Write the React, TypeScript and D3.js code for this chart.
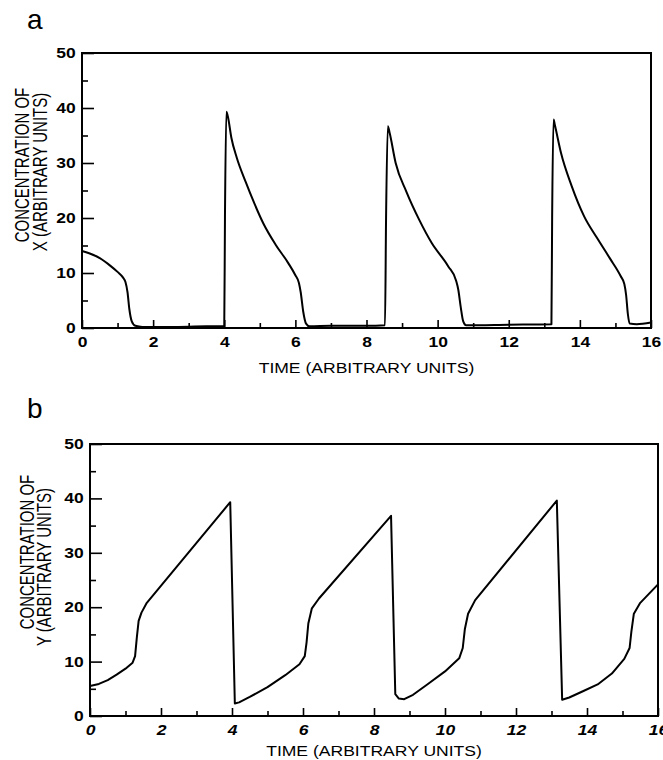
import { useEffect, useRef } from 'react'
import * as d3 from 'd3'

// time ticks / concentration ticks
const T_TICKS=[0,2,4,6,8,10,12,14,16]
const T_MINOR=[1,3,5,7,9,11,13,15]
const C_TICKS=[0,10,20,30,40,50]
const C_MINOR=[5,15,25,35,45]

// panel a : concentration of X
const TIME_X=[0,0.2,0.5,0.8,1.0,1.15,1.22,1.28,1.33,1.4,1.5,1.7,2.5,3.5,4.0,4.02,4.06,4.1,4.2,4.35,4.6,4.85,5.1,5.45,5.8,6.0,6.1,6.15,6.22,6.3,6.4,7,8,8.52,8.55,8.6,8.65,8.82,9.12,9.48,9.83,10.3,10.52,10.58,10.65,10.72,10.8,12,13.2,13.22,13.26,13.3,13.47,13.77,14.12,14.48,14.84,15.15,15.25,15.3,15.35,15.4,15.6,16]
const CONC_X=[14,13.6,12.7,11.3,10.2,9.2,8.4,6.5,3.5,1.2,0.4,0.2,0.2,0.3,0.3,20,39.3,38.5,34.6,31,26.6,22.6,19,15.1,11.8,9.6,8.2,6.5,3,0.8,0.3,0.4,0.4,0.5,20,36.7,35.5,30,24.8,19.7,15.5,11.2,8.6,7,3.8,1.2,0.5,0.6,0.7,20,37.9,36.8,31.8,25.8,20.3,16.4,12.7,9.4,8,6,2.5,0.8,0.7,1]

// panel b : concentration of Y
const TIME_Y=[0,0.25,0.5,0.75,1.0,1.2,1.27,1.32,1.37,1.45,1.6,3.95,4.08,4.2,4.5,5,5.5,5.9,6.05,6.1,6.15,6.25,6.45,8.48,8.6,8.7,8.85,9.1,9.5,10,10.4,10.5,10.56,10.65,10.85,13.15,13.3,13.5,13.9,14.3,14.7,15.05,15.2,15.25,15.32,15.5,16]
const CONC_Y=[5.5,5.9,6.6,7.6,8.7,9.8,11,14.5,17.5,19,20.8,39.3,2.3,2.5,3.5,5.3,7.5,9.5,11,13.5,17,19.8,21.6,36.8,4,3.2,3.1,3.9,5.8,8.2,10.6,12.5,16,18.8,21.3,39.6,3,3.4,4.6,5.8,7.8,10.5,12.5,15.5,18.8,20.8,24.2]

const FONT='"Liberation Sans", Arial, Helvetica, sans-serif'

const PANELS=[
  {letter:'a',name:'X',t:TIME_X,c:CONC_X,l:82,r:651,top:53,b:328,italic:false,curve:d3.curveMonotoneX,
   letterY:29,titleY:373,ylab:[{x:29,y:165},{x:47,y:172}]},
  {letter:'b',name:'Y',t:TIME_Y,c:CONC_Y,l:90,r:658,top:444,b:716,italic:true,curve:d3.curveLinear,
   letterY:418,titleY:756,ylab:[{x:34,y:552},{x:51,y:567}]},
]

export default function App() {
  const ref=useRef<SVGSVGElement>(null)
  useEffect(() => {
    if(!ref.current) return
    const svg=d3.select(ref.current)
    svg.selectAll('*').remove()
    svg.append('rect').attr('width',663).attr('height',760).attr('fill','#fff')
    PANELS.forEach(p=>{
      const x=d3.scaleLinear().domain([0,16]).range([p.l,p.r])
      const y=d3.scaleLinear().domain([0,50]).range([p.b,p.top])
      const g=svg.append('g').attr('font-family',FONT)

      const axY=g.append('g').attr('transform',`translate(${p.l},0)`)
        .call(d3.axisLeft(y).tickValues(C_TICKS).tickSize(-12).tickPadding(5).tickFormat(d3.format('d')))
      g.append('g').attr('transform',`translate(${p.l},0)`)
        .call(d3.axisLeft(y).tickValues(C_MINOR).tickSize(-6).tickFormat(()=>''))
      const axX=g.append('g').attr('transform',`translate(0,${p.b})`)
        .call(d3.axisBottom(x).tickValues(T_TICKS).tickSize(-8).tickPadding(9).tickFormat(d3.format('d')))
      g.append('g').attr('transform',`translate(0,${p.b})`)
        .call(d3.axisBottom(x).tickValues(T_MINOR).tickSize(-5).tickFormat(()=>''))
      g.selectAll('.domain').remove()
      g.selectAll('.tick line').attr('stroke','#000').attr('stroke-width',1.6)
      axY.selectAll('.tick text').attr('font-size',14).attr('font-weight','bold').attr('fill','#000')
        .attr('font-family',FONT).attr('transform','scale(1.25,1)')
      axX.selectAll('.tick text').attr('font-size',14).attr('font-weight','bold').attr('fill','#000')
        .attr('font-family',FONT).attr('font-style',p.italic?'italic':'normal')
        .attr('x',0).attr('transform','scale(1.25,1)')

      g.append('rect').attr('x',p.l).attr('y',p.top).attr('width',p.r-p.l).attr('height',p.b-p.top)
        .attr('fill','none').attr('stroke','#000').attr('stroke-width',2)

      const pts=p.t.map((t,i)=>[t,p.c[i]] as [number,number])
      g.append('path').datum(pts)
        .attr('d',d3.line<[number,number]>().x(d=>x(d[0])).y(d=>y(d[1])).curve(p.curve))
        .attr('fill','none').attr('stroke','#000').attr('stroke-width',2).attr('stroke-linejoin','round')

      g.append('text').attr('x',27).attr('y',p.letterY).attr('font-size',28).attr('fill','#000').text(p.letter)

      g.append('text').attr('transform',`translate(${(p.l+p.r)/2},${p.titleY}) scale(1.17,1)`)
        .attr('text-anchor','middle').attr('font-size',15).attr('fill','#000').text('TIME (ARBITRARY UNITS)')

      const lines=['CONCENTRATION OF',`${p.name} (ARBITRARY UNITS)`]
      lines.forEach((s,i)=>{
        g.append('text').attr('transform',`translate(${p.ylab[i].x},${p.ylab[i].y}) scale(1.3,1) rotate(-90)`)
          .attr('text-anchor','middle').attr('font-size',15).attr('fill','#000').text(s)
      })
    })
  },[])
  return <svg ref={ref} width={663} height={760} style={{ position:'absolute',left:0,top:0,display:'block' }} />
}
